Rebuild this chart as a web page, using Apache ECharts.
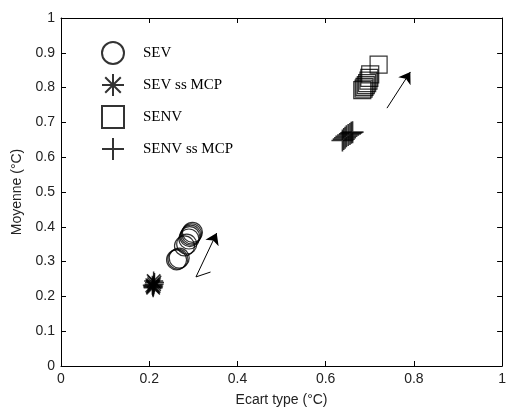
<!DOCTYPE html>
<html><head><meta charset="utf-8">
<script src="https://cdn.jsdelivr.net/npm/echarts@6/dist/echarts.min.js"></script>
<style>html,body{margin:0;padding:0;background:#fff}#c{width:509px;height:412px}</style>
</head><body><div id="c"></div>
<script>
// Data (x = Ecart type, y = Moyenne)
var seriesNames = ['SEV', 'SEV ss MCP', 'SENV', 'SENV ss MCP'];
var sev = [[0.262,0.305],[0.265,0.307],[0.268,0.31],[0.28,0.345],[0.285,0.35],[0.29,0.365],[0.292,0.372],[0.294,0.376],[0.296,0.38],[0.298,0.384]];
var sevSsMcp = [[0.208,0.228],[0.209,0.225],[0.21,0.23],[0.211,0.235],[0.212,0.24],[0.21,0.244],[0.207,0.232]];
var senv = [[0.683,0.793],[0.686,0.797],[0.688,0.802],[0.691,0.807],[0.694,0.813],[0.697,0.82],[0.699,0.828],[0.701,0.838],[0.72,0.866]];
var senvSsMcp = [[0.638,0.648],[0.641,0.652],[0.644,0.656],[0.647,0.66],[0.651,0.664],[0.655,0.667],[0.658,0.670],[0.661,0.672]];
var arrow1 = [[0.339,0.270],[0.306,0.256],[0.353,0.382]];
var arrow2 = [[0.739,0.741],[0.792,0.845]];
var xTicks = [0, 0.2, 0.4, 0.6, 0.8, 1];
var yTicks = [0, 0.1, 0.2, 0.3, 0.4, 0.5, 0.6, 0.7, 0.8, 0.9, 1];

var ASTER = 'path://M0 -10 L0 10 M-10 0 L10 0 M-7.07 -7.07 L7.07 7.07 M-7.07 7.07 L7.07 -7.07';
var PLUS = 'path://M0 -10 L0 10 M-10 0 L10 0';
function fmt(v){ return String(+v.toFixed(1)); }
function hollow(w){ return {color:'transparent', borderColor:'#000', borderWidth:w}; }
var axisCommon = {
  type:'value', min:0, max:1,
  axisLine:{show:true, onZero:false, lineStyle:{color:'#000', width:1}},
  axisTick:{show:true, inside:true, length:5, lineStyle:{color:'#000'}},
  splitLine:{show:false}
};
// arrow segments built from the arrow paths
var plainSegs = [];
var headSegs = [];
[arrow1, arrow2].forEach(function(p){
  for (var i = 0; i < p.length - 1; i++) {
    var seg = {coords:[p[i], p[i+1]]};
    if (i === p.length - 2) headSegs.push(seg); else plainSegs.push(seg);
  }
});
var chart = echarts.init(document.getElementById('c'));
chart.setOption({
  animation:false,
  backgroundColor:'#fff',
  grid:{left:61, right:3, top:18, bottom:46},
  legend:{
    orient:'vertical', left:96, top:36, itemWidth:22, itemHeight:22, itemGap:8,
    data:seriesNames,
    textStyle:{fontFamily:'Liberation Serif', fontSize:15, color:'#000', padding:[0,0,0,14]}
  },
  xAxis:[
    Object.assign({}, axisCommon, {position:'bottom', interval:0.2,
      name:'Ecart type (°C)', nameLocation:'middle', nameGap:27,
      nameTextStyle:{fontFamily:'Liberation Sans', fontSize:14, color:'#222'},
      axisLabel:{fontFamily:'Liberation Sans', fontSize:14, color:'#222', margin:6,
        formatter:function(v){ return xTicks.indexOf(+v.toFixed(1))>=0 ? fmt(v) : ''; }}}),
    Object.assign({}, axisCommon, {position:'top', interval:0.2, axisLabel:{show:false}})
  ],
  yAxis:[
    Object.assign({}, axisCommon, {position:'left', interval:0.1,
      name:'Moyenne (°C)', nameLocation:'middle', nameGap:37,
      nameTextStyle:{fontFamily:'Liberation Sans', fontSize:14, color:'#222'},
      axisLabel:{fontFamily:'Liberation Sans', fontSize:14, color:'#222', margin:6,
        formatter:function(v){ return yTicks.indexOf(+v.toFixed(1))>=0 ? fmt(v) : ''; }}}),
    Object.assign({}, axisCommon, {position:'right', interval:0.1, axisLabel:{show:false}})
  ],
  series:[
    {name:'SEV', type:'scatter', symbol:'circle', symbolSize:20, data:sev, itemStyle:hollow(1.2)},
    {name:'SEV ss MCP', type:'scatter', symbol:ASTER, symbolSize:19, data:sevSsMcp, itemStyle:hollow(1.5)},
    {name:'SENV', type:'scatter', symbol:'rect', symbolSize:17, data:senv, itemStyle:hollow(1.2)},
    {name:'SENV ss MCP', type:'scatter', symbol:PLUS, symbolSize:22, data:senvSsMcp, itemStyle:hollow(1.6)},
    {type:'lines', coordinateSystem:'cartesian2d', symbol:['none','none'],
      lineStyle:{color:'#000', width:1, opacity:1}, data:plainSegs},
    {type:'lines', coordinateSystem:'cartesian2d', symbol:['none','arrow'], symbolSize:11,
      lineStyle:{color:'#000', width:1, opacity:1}, data:headSegs}
  ]
});
</script></body></html>
